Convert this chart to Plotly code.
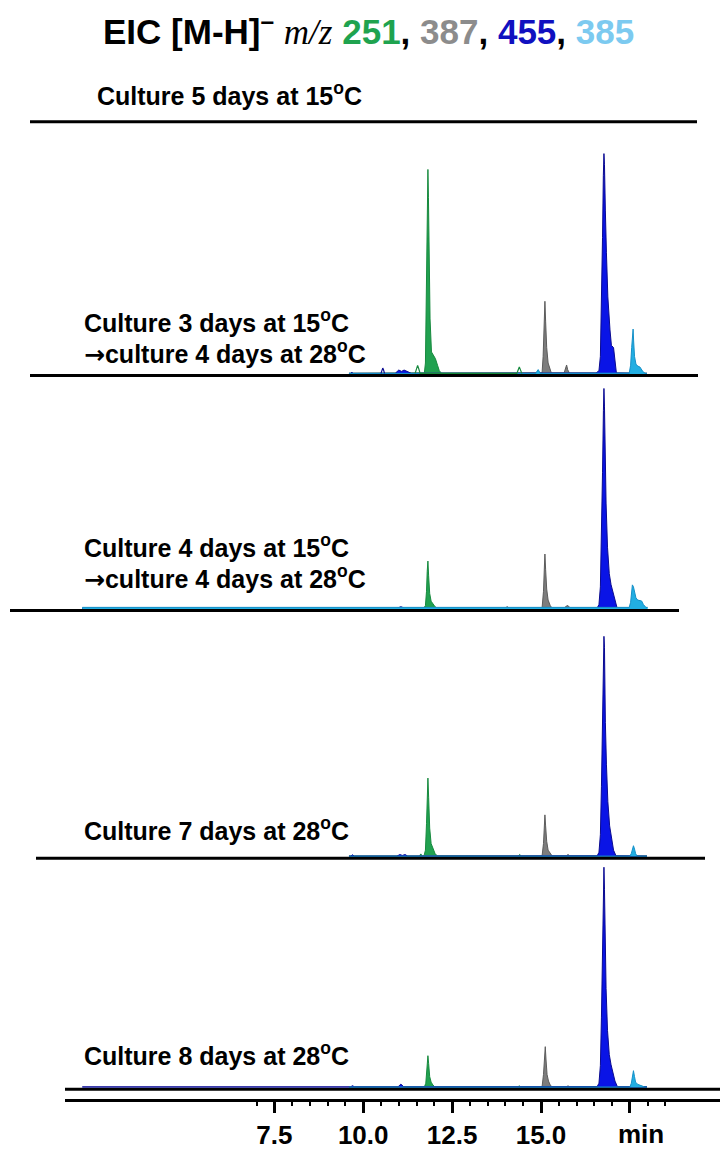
import plotly.graph_objects as go

# ---------------- data: retention time (min) and relative intensity (455 apex = 100) ----------------
# Panel "Culture 3 days at 15oC -> culture 4 days at 28oC"
rt_251_a = [9.6, 11.72, 11.75, 11.78, 11.80, 11.82, 11.835, 11.85, 11.88, 11.92, 11.97, 12.03, 12.09, 12.14, 12.20, 17.98]
int_251_a = [0.3, 0.5, 5, 35, 75, 92.8, 80, 50, 25, 10, 8.6, 7, 4, 1.5, 0.4, 0.3]
rt_387_a = [9.6, 14.95, 15.03, 15.06, 15.09, 15.11, 15.13, 15.16, 15.20, 15.25, 15.29, 15.65, 15.69, 15.72, 15.75, 15.80, 17.98]
int_387_a = [0.3, 0.3, 0.5, 8, 24, 33, 24, 12, 5, 2, 0.5, 0.5, 2.5, 4.1, 2.0, 0.4, 0.3]
rt_455_a = [9.6, 9.65, 9.68, 9.71, 10.9, 11.0, 11.08, 11.15, 11.26, 11.35, 16.55, 16.63, 16.67, 16.70, 16.73, 16.753,
            16.77, 16.785, 16.80, 16.81, 16.84, 16.88, 16.94, 16.98, 17.04, 17.08, 17.12, 17.98]
int_455_a = [0.3, 0.3, 0.9, 0.3, 0.3, 1.8, 1.2, 1.8, 1.0, 0.3, 0.5, 1.5, 8, 30, 62, 90,
             100, 95, 76, 74, 55, 35, 20, 13, 12, 5, 0.5, 0.3]
rt_385_a = [9.6, 14.85, 14.92, 14.98, 17.48, 17.52, 17.55, 17.575, 17.59, 17.605, 17.63, 17.67, 17.72, 17.78, 17.82, 17.87, 17.93, 17.98]
int_385_a = [0.3, 0.3, 2, 0.3, 0.4, 4, 12, 19, 20.4, 15, 8, 4.5, 3.6, 3.2, 2.2, 1, 0.3, 0.3]
# unfilled minor signals in the same run
rt_251_open_a = [11.46, 11.50, 11.53, 11.56, 11.60, 14.32, 14.36, 14.39, 14.42, 14.46]
int_251_open_a = [0.3, 2.5, 3.9, 2.5, 0.3, 0.3, 2.0, 3.2, 2.0, 0.3]
rt_455_open_a = [10.50, 10.53, 10.55, 10.57, 10.60]
int_455_open_a = [0.3, 2.0, 2.7, 2.0, 0.3]

# Panel "Culture 4 days at 15oC -> culture 4 days at 28oC"
rt_251_b = [2.1, 11.70, 11.75, 11.78, 11.80, 11.82, 11.84, 11.87, 11.91, 11.96, 12.02, 12.08, 17.98]
int_251_b = [0.3, 0.3, 1.5, 8, 17, 21.7, 15, 7, 3.5, 2.2, 1, 0.3, 0.3]
rt_387_b = [2.1, 13.98, 14.05, 14.12, 15.03, 15.07, 15.095, 15.11, 15.13, 15.16, 15.20, 15.26, 15.31, 15.66, 15.71, 15.76, 15.82, 17.98]
int_387_b = [0.3, 0.3, 1.0, 0.3, 0.4, 8, 19, 24.9, 18, 9, 4, 1.5, 0.4, 0.4, 1.3, 1.5, 0.4, 0.3]
rt_455_b = [2.1, 10.95, 11.06, 11.17, 16.58, 16.63, 16.67, 16.70, 16.73, 16.755, 16.77, 16.785, 16.80, 16.83, 16.87,
            16.92, 16.97, 17.03, 17.09, 17.14, 17.98]
int_455_b = [0.3, 0.3, 1.0, 0.3, 0.4, 2, 10, 32, 62, 90, 100, 92, 72, 48, 28,
             16, 11, 7, 3, 0.4, 0.3]
rt_385_b = [2.1, 17.48, 17.52, 17.55, 17.57, 17.60, 17.63, 17.67, 17.72, 17.78, 17.83, 17.88, 17.95, 18.0]
int_385_b = [0.7, 0.7, 3, 8, 10.9, 10, 7, 5, 4, 3.8, 3.6, 2, 0.7, 0.7]

# Panel "Culture 7 days at 28oC"
rt_251_c = [9.6, 11.58, 11.62, 11.66, 11.71, 11.75, 11.78, 11.80, 11.82, 11.84, 11.87, 11.91, 11.96, 12.02, 12.08,
            14.35, 14.40, 14.45, 17.98]
int_251_c = [0.3, 0.3, 1.3, 0.3, 0.4, 3, 15, 28, 35.7, 27, 13, 6, 3.5, 1.5, 0.4,
             0.3, 1.0, 0.3, 0.3]
rt_387_c = [9.6, 15.03, 15.07, 15.095, 15.11, 15.13, 15.16, 15.20, 15.26, 15.31, 15.71, 15.76, 15.81, 17.98]
int_387_c = [0.3, 0.4, 6, 14, 19, 14, 7, 3, 1.2, 0.4, 0.4, 1.0, 0.4, 0.3]
rt_455_c = [9.6, 9.65, 9.70, 9.75, 10.95, 11.03, 11.10, 11.18, 11.25, 16.58, 16.63, 16.67, 16.70, 16.73, 16.755,
            16.77, 16.785, 16.80, 16.81, 16.84, 16.88, 16.93, 16.98, 17.04, 17.11, 17.98]
int_455_c = [0.3, 0.3, 0.9, 0.3, 0.3, 1.0, 0.6, 1.0, 0.3, 0.4, 2, 10, 32, 62, 90,
             100, 95, 63, 61, 42, 25, 14, 8, 3, 0.4, 0.3]
rt_385_c = [9.6, 17.50, 17.54, 17.57, 17.60, 17.63, 17.66, 17.70, 17.98]
int_385_c = [0.3, 0.3, 1.5, 4, 5, 3.5, 1.5, 0.3, 0.3]

# Panel "Culture 8 days at 28oC"
rt_251_d = [9.6, 11.72, 11.76, 11.79, 11.81, 11.82, 11.84, 11.87, 11.91, 11.96, 12.02, 14.34, 14.39, 14.44, 17.98]
int_251_d = [0.3, 0.3, 2, 8, 13, 14.5, 11, 5, 2.5, 1.2, 0.3, 0.3, 0.8, 0.3, 0.3]
rt_387_d = [9.6, 14.64, 14.69, 14.74, 15.03, 15.07, 15.095, 15.12, 15.14, 15.17, 15.21, 15.26, 15.31, 15.71, 15.76, 15.81, 17.98]
int_387_d = [0.3, 0.3, 0.6, 0.3, 0.4, 6, 13, 18.6, 13, 6, 3, 1.2, 0.4, 0.4, 0.8, 0.4, 0.3]
rt_455_d = [2.1, 9.65, 9.70, 9.75, 10.98, 11.06, 11.14, 16.58, 16.63, 16.67, 16.70, 16.73, 16.755, 16.77, 16.785,
            16.80, 16.83, 16.87, 16.92, 16.97, 17.02, 17.08, 17.15, 17.98]
int_455_d = [0.4, 0.4, 0.9, 0.4, 0.4, 1.6, 0.4, 0.5, 2, 10, 32, 62, 90, 100, 90,
             70, 45, 26, 15, 10.4, 7, 3, 0.4, 0.4]
rt_385_d = [9.6, 17.50, 17.54, 17.57, 17.60, 17.63, 17.66, 17.72, 17.80, 17.86, 17.92, 17.98]
int_385_d = [0.3, 0.3, 2, 5.5, 7.7, 5, 2.5, 1.5, 1.0, 0.8, 0.3, 0.3]

# axis ticks
major_ticks = [7.5, 10.0, 12.5, 15.0, 17.5]
major_labels = ["7.5", "10.0", "12.5", "15.0", ""]
minor_ticks = [7.0, 8.0, 8.5, 9.0, 9.5, 10.5, 11.0, 11.5, 12.0, 13.0, 13.5, 14.0, 14.5,
               15.5, 16.0, 16.5, 17.0, 18.0, 18.5]

DEG = "<sup>o</sup>"
ARROW = "<span style=\"font-family:'DejaVu Sans'\">\u2192</span>"
panel_titles = [
    [f"Culture 5 days at 15{DEG}C"],
    [f"Culture 3 days at 15{DEG}C", f"{ARROW}culture 4 days at 28{DEG}C"],
    [f"Culture 4 days at 15{DEG}C", f"{ARROW}culture 4 days at 28{DEG}C"],
    [f"Culture 7 days at 28{DEG}C"],
    [f"Culture 8 days at 28{DEG}C"],
]

# ---------------- styling ----------------
W, H = 720, 1150
FONT = "Liberation Sans, Arial, sans-serif"
ion_style = {
    "251": dict(fill="#21a150", line="#178a3e"),
    "387": dict(fill="#7d7d7d", line="#5c5c5c"),
    "455": dict(fill="#0a14e6", line="#0a0a90"),
    "385": dict(fill="#22aee2", line="#1590c8"),
}
title_colors = {"251": "#1fa34f", "387": "#8c8c8c", "455": "#1010c0", "385": "#7ccaf0"}


def py(px):
    """pixel row -> paper fraction"""
    return (H - px) / H


def px_x(px):
    return px / W


# zero-intensity row of each chromatogram (pixels) and height of its plotting band
trace_zero = [375.0, 610.5, 859.0, 1090.5]
band = 232.0
y_top = 100 * band / 221.0
yaxis_names = ["y", "y2", "y3", "y4"]

runs = [
    [("251", rt_251_a, int_251_a), ("387", rt_387_a, int_387_a), ("455", rt_455_a, int_455_a), ("385", rt_385_a, int_385_a)],
    [("251", rt_251_b, int_251_b), ("387", rt_387_b, int_387_b), ("455", rt_455_b, int_455_b), ("385", rt_385_b, int_385_b)],
    [("251", rt_251_c, int_251_c), ("387", rt_387_c, int_387_c), ("455", rt_455_c, int_455_c), ("385", rt_385_c, int_385_c)],
    [("251", rt_251_d, int_251_d), ("387", rt_387_d, int_387_d), ("455", rt_455_d, int_455_d), ("385", rt_385_d, int_385_d)],
]

fig = go.Figure()
for k, run in enumerate(runs):
    for ion, rt, inten in run:
        st = ion_style[ion]
        fig.add_trace(go.Scatter(
            x=rt, y=inten, xaxis="x", yaxis=yaxis_names[k], mode="lines",
            line=dict(color=st["line"], width=1), fill="tozeroy", fillcolor=st["fill"],
            hoverinfo="skip", showlegend=False,
        ))

# outline-only minor signals
for ion, rt, inten in [("251", rt_251_open_a, int_251_open_a), ("455", rt_455_open_a, int_455_open_a)]:
    fig.add_trace(go.Scatter(
        x=rt, y=inten, xaxis="x", yaxis="y", mode="lines",
        line=dict(color=ion_style[ion]["line"], width=1.2),
        hoverinfo="skip", showlegend=False,
    ))

# time axis: 35.56 px per minute, 7.5 min at x = 274.3 px
px_per_min = 35.56
x0_px = 274.3 - 7.5 * px_per_min
x_left_px, x_right_px = 65, 720
x_range = [(x_left_px - x0_px) / px_per_min, (x_right_px - x0_px) / px_per_min]

layout = dict(
    width=W, height=H, margin=dict(l=0, r=0, t=0, b=0),
    paper_bgcolor="white", plot_bgcolor="rgba(0,0,0,0)",
    xaxis=dict(
        domain=[px_x(x_left_px), 1.0], range=x_range, anchor="free", position=py(1103),
        showline=True, linecolor="black", linewidth=3, showgrid=False, zeroline=False,
        tickmode="array", tickvals=major_ticks, ticktext=major_labels,
        ticks="outside", ticklen=11, tickwidth=2.5, tickcolor="black",
        tickfont=dict(family=FONT, size=26, color="black", weight="bold"),
        minor=dict(tickmode="array", tickvals=minor_ticks, ticks="outside", ticklen=4,
                   tickwidth=1.5, tickcolor="black", showgrid=False),
        fixedrange=True,
    ),
)
for k, name in enumerate(yaxis_names):
    key = "yaxis" if name == "y" else "yaxis" + name[1:]
    z = trace_zero[k]
    layout[key] = dict(domain=[py(z), py(z - band)], range=[0, y_top], visible=False,
                       anchor="x", fixedrange=True)
fig.update_layout(**layout)

# horizontal base lines under each run (pixel rows and extents)
base_lines = [(122, 30, 697), (376.5, 30, 698), (612, 10, 679), (860.5, 36, 705), (1092, 65, 720)]
for yb, xa, xb in base_lines:
    fig.add_shape(type="line", xref="paper", yref="paper", x0=px_x(xa), x1=px_x(xb),
                  y0=py(yb), y1=py(yb), line=dict(color="black", width=3))

# run labels
label_rows = [[94], [322, 353], [547, 579], [831], [1057]]
label_x = [95, 82, 82, 82, 82]
for lines, rows, lx in zip(panel_titles, label_rows, label_x):
    for text, row in zip(lines, rows):
        fig.add_annotation(text=text, xref="paper", yref="paper", x=px_x(lx), y=py(row),
                           xanchor="left", yanchor="middle", showarrow=False,
                           font=dict(family=FONT, size=25, color="black", weight="bold"))

# unit label on the time axis
fig.add_annotation(text="min", xref="x", yref="paper", x=(641 - x0_px) / px_per_min, y=py(1137),
                   xanchor="center", yanchor="middle", showarrow=False,
                   font=dict(family=FONT, size=26, color="black", weight="bold"))

# heading
heading = (
    "EIC [M-H]<sup>\u2013</sup> "
    "<span style=\"font-family:'Liberation Serif',serif;font-style:italic;font-weight:normal\">m/z</span> "
    f"<span style='color:{title_colors['251']}'>251</span>, "
    f"<span style='color:{title_colors['387']}'>387</span>, "
    f"<span style='color:{title_colors['455']}'>455</span>, "
    f"<span style='color:{title_colors['385']}'>385</span>"
)
fig.add_annotation(text=heading, xref="paper", yref="paper", x=px_x(368), y=py(30),
                   xanchor="center", yanchor="middle", showarrow=False,
                   font=dict(family=FONT, size=35, color="black", weight="bold"))

fig.write_html("out.html")
